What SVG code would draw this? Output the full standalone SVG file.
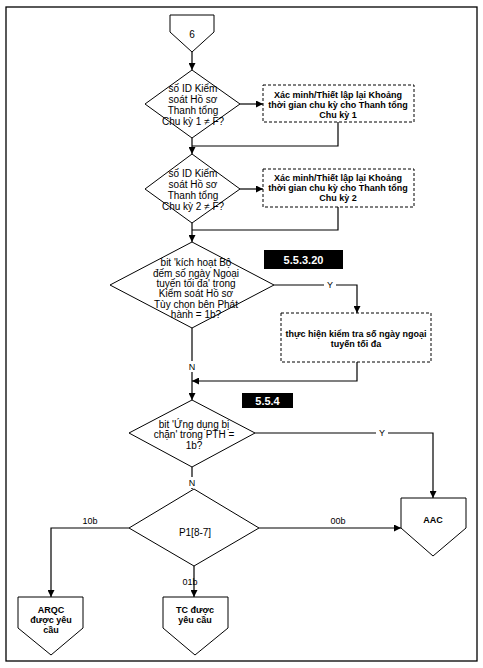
<svg xmlns="http://www.w3.org/2000/svg" width="483" height="668" viewBox="0 0 483 668">
<style>
.sh{fill:#fff;stroke:#000;stroke-width:1}
.ds{fill:#fff;stroke:#000;stroke-width:1;stroke-dasharray:3,2}
.cn{fill:none;stroke:#000;stroke-width:1.2}
.t{font-family:"Liberation Sans",Arial,sans-serif;font-size:10px;fill:#000;text-anchor:middle}
.b{font-family:"Liberation Sans",Arial,sans-serif;font-size:9px;font-weight:bold;fill:#000;text-anchor:middle}
.lb{font-family:"Liberation Sans",Arial,sans-serif;font-size:9px;fill:#000;text-anchor:middle}
.tag{font-family:"Liberation Sans",Arial,sans-serif;font-size:11px;font-weight:bold;fill:#fff;text-anchor:middle}
</style>
<defs>
<marker id="ar" viewBox="0 0 10 10" refX="10" refY="5" markerWidth="7" markerHeight="7" markerUnits="userSpaceOnUse" orient="auto">
<path d="M0,0 L10,5 L0,10 z" fill="#000"/>
</marker>
</defs>
<rect x="6" y="7" width="471" height="654" fill="#fff" stroke="#000" stroke-width="1.3"/>
<g id="connectors">
<path class="cn" d="M192,52 V70" marker-end="url(#ar)"/>
<path class="cn" d="M240,104 H263" marker-end="url(#ar)"/>
<path class="cn" d="M192,138 V154" marker-end="url(#ar)"/>
<path class="cn" d="M338,122 V146 H192"/>
<path class="cn" d="M240,189 H263" marker-end="url(#ar)"/>
<path class="cn" d="M192,223 V242" marker-end="url(#ar)"/>
<path class="cn" d="M338,207 V230 H192"/>
<path class="cn" d="M274,285 H357 V313" marker-end="url(#ar)"/>
<path class="cn" d="M192,328 V400" marker-end="url(#ar)"/>
<path class="cn" d="M357,362 V381 H192" marker-end="url(#ar)"/>
<path class="cn" d="M255,433 H433 V498" marker-end="url(#ar)"/>
<path class="cn" d="M192,467 V489" marker-end="url(#ar)"/>
<path class="cn" d="M259,528 H401" marker-end="url(#ar)"/>
<path class="cn" d="M129,528 H51 V597" marker-end="url(#ar)"/>
<path class="cn" d="M194,566 V597" marker-end="url(#ar)"/>
<rect x="324" y="279" width="12" height="11" fill="#fff"/>
<text class="lb" x="330" y="288">Y</text>
<rect x="376" y="427" width="12" height="11" fill="#fff"/>
<text class="lb" x="382" y="436">Y</text>
<rect x="186" y="361" width="12" height="11" fill="#fff"/>
<text class="lb" x="192" y="370">N</text>
<rect x="186" y="477" width="12" height="11" fill="#fff"/>
<text class="lb" x="192" y="486">N</text>
<text class="lb" x="338" y="524">00b</text>
<text class="lb" x="90" y="524">10b</text>
<text class="lb" x="190" y="585">01b</text>
</g>
<g id="start6">
<polygon class="sh" points="170,15 214,15 214,32 192,52 170,32"/>
<text class="t" x="192" y="38">6</text>
</g>
<g id="dec1">
<polygon class="sh" points="192,70 240,104 192,138 145,104"/>
<text class="t" x="193" y="92">số ID Kiểm</text>
<text class="t" x="193" y="103">soát Hồ sơ</text>
<text class="t" x="193" y="114">Thanh tổng</text>
<text class="t" x="193" y="125">Chu kỳ 1 ≠ F?</text>
</g>
<g id="box1">
<rect class="ds" x="263" y="85" width="151" height="37"/>
<text class="b" x="338" y="98">Xác minh/Thiết lập lại Khoảng</text>
<text class="b" x="338" y="108">thời gian chu kỳ cho Thanh tổng</text>
<text class="b" x="338" y="118">Chu kỳ 1</text>
</g>
<g id="dec2">
<polygon class="sh" points="192,154 240,189 192,223 145,189"/>
<text class="t" x="193" y="177">số ID Kiểm</text>
<text class="t" x="193" y="188">soát Hồ sơ</text>
<text class="t" x="193" y="199">Thanh tổng</text>
<text class="t" x="193" y="210">Chu kỳ 2 ≠ F?</text>
</g>
<g id="box2">
<rect class="ds" x="263" y="169" width="151" height="38"/>
<text class="b" x="338" y="181">Xác minh/Thiết lập lại Khoảng</text>
<text class="b" x="338" y="191">thời gian chu kỳ cho Thanh tổng</text>
<text class="b" x="338" y="201">Chu kỳ 2</text>
</g>
<g id="tag1">
<rect x="264" y="250" width="79" height="19" fill="#000"/>
<text class="tag" x="303.5" y="264">5.5.3.20</text>
</g>
<g id="dec3">
<polygon class="sh" points="192,242 274,285 192,328 110,285"/>
<text class="t" x="196" y="266">bit 'kích hoạt Bộ</text>
<text class="t" x="196" y="277">đếm số ngày Ngoại</text>
<text class="t" x="196" y="287">tuyến tối đa' trong</text>
<text class="t" x="196" y="297">Kiểm soát Hồ sơ</text>
<text class="t" x="196" y="308">Tùy chọn bên Phát</text>
<text class="t" x="196" y="318">hành = 1b?</text>
</g>
<g id="box3">
<rect class="ds" x="281" y="313" width="150" height="49"/>
<text class="b" x="356" y="337">thực hiện kiểm tra số ngày ngoại</text>
<text class="b" x="356" y="347">tuyến tối đa</text>
</g>
<g id="tag2">
<rect x="242" y="393" width="51" height="15" fill="#000"/>
<text class="tag" x="267.5" y="405">5.5.4</text>
</g>
<g id="dec4">
<polygon class="sh" points="192,400 255,433 192,467 129,433"/>
<text class="t" x="194" y="428">bit 'Ứng dụng bị</text>
<text class="t" x="194" y="438">chặn' trong PTH =</text>
<text class="t" x="194" y="449">1b?</text>
</g>
<g id="dec5">
<polygon class="sh" points="194,489 259,528 194,566 129,528"/>
<text class="t" x="195" y="536">P1[8-7]</text>
</g>
<g id="aac">
<polygon class="sh" points="401,498 466,498 466,528 433,556 401,528"/>
<text class="b" x="433" y="523">AAC</text>
</g>
<g id="arqc">
<polygon class="sh" points="18,597 83,597 83,628 51,655 18,628"/>
<text class="b" x="51" y="613">ARQC</text>
<text class="b" x="51" y="623">được yêu</text>
<text class="b" x="51" y="633">cầu</text>
</g>
<g id="tc">
<polygon class="sh" points="163,597 228,597 228,628 195,655 163,628"/>
<text class="b" x="195" y="613">TC được</text>
<text class="b" x="195" y="623">yêu cầu</text>
</g>
</svg>
